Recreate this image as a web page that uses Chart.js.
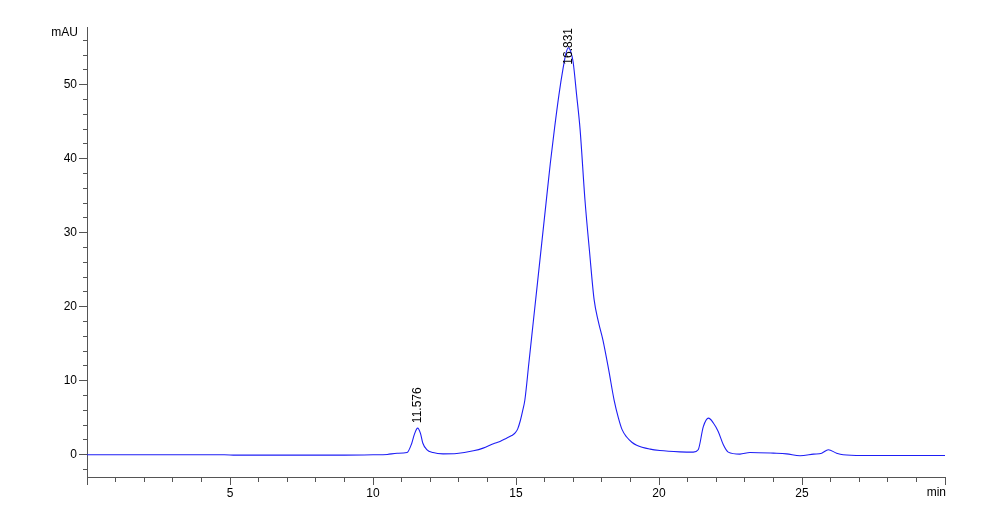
<!DOCTYPE html>
<html>
<head>
<meta charset="utf-8">
<script src="https://cdn.jsdelivr.net/npm/chart.js@4"></script>
<style>
	body { margin: 0; background: #fff; }
	#wrap { width: 1000px; height: 523px; }
</style>
</head>
<body>
<div id="wrap"><canvas id="chromatogram"></canvas></div>
<script>
// retention time (min) and signal (mAU)
var times = [0, 2, 4, 4.8, 5.2, 7, 9, 10.0, 10.5, 10.84, 11.19, 11.35, 11.45, 11.56, 11.66, 11.74, 11.88,
	12.1, 12.45, 12.93, 13.51, 13.85, 14.21, 14.44, 14.67, 14.85, 14.97, 15.06, 15.15, 15.23, 15.31, 15.45,
	15.6, 15.75, 15.9, 16.05, 16.2, 16.35, 16.5, 16.65, 16.75, 16.83, 16.92, 17.0, 17.12, 17.24, 17.41,
	17.57, 17.73, 17.88, 18.04, 18.24, 18.43, 18.58, 18.71, 18.87, 19.05, 19.22, 19.69, 20.03, 20.73, 21.2, 21.37,
	21.55, 21.73, 21.9, 22.07, 22.25, 22.42, 22.83, 23.18, 24.0, 24.46, 24.93, 25.4, 25.69, 25.92, 26.21,
	26.44, 27.1, 30]
var signal = [0, 0, 0, 0, -0.05, -0.05, -0.05, 0, 0.05, 0.2, 0.3, 1.5, 2.8, 3.6, 2.9, 1.6, 0.7,
	0.3, 0.13, 0.18, 0.54, 0.9, 1.5, 1.8, 2.25, 2.6, 2.95, 3.5, 4.6, 5.9, 7.4, 12.4,
	17.8, 23.2, 28.6, 34.0, 39.4, 44.2, 48.6, 52.3, 54.3, 55.0, 54.4, 53.0, 48.6, 44.0, 34.5,
	27.5, 21.0, 18.0, 15.5, 11.5, 7.4, 5.0, 3.4, 2.4, 1.7, 1.3, 0.77, 0.58, 0.4, 0.36, 0.68,
	3.8, 4.95, 4.3, 3.15, 1.35, 0.36, 0.09, 0.31, 0.22, 0.13, -0.13, 0.09, 0.22, 0.68, 0.22,
	0, -0.1, -0.1]

var peakTimes = [11.576, 16.831]
var peakHeights = [3.6, 55.0]
var peakLabels = ['11.576', '16.831']

var xTicks = [0, 1, 2, 3, 4, 5, 6, 7, 8, 9, 10, 11, 12, 13, 14, 15, 16, 17, 18, 19, 20, 21, 22, 23, 24, 25, 26, 27, 28, 29, 30]
var yTicks = [-2, 0, 2, 4, 6, 8, 10, 12, 14, 16, 18, 20, 22, 24, 26, 28, 30, 32, 34, 36, 38, 40, 42, 44, 46, 48, 50, 52, 54, 56]

var FONT = '"Liberation Sans", Arial, sans-serif'
var AXIS = '#555'

var annotate = {
	id: 'annotate',
	afterDatasetsDraw: function (chart) {
		var ctx = chart.ctx
		var x = chart.scales.x
		var y = chart.scales.y
		var area = chart.chartArea
		ctx.save()
		ctx.fillStyle = '#000'
		ctx.font = '12px ' + FONT
		peakTimes.forEach(function (t, i) {
			var px = x.getPixelForValue(t)
			var py = y.getPixelForValue(peakHeights[i])
			var w = ctx.measureText(peakLabels[i]).width
			var start = Math.max(py - 5, area.top + w + 1)
			ctx.save()
			ctx.translate(px, start)
			ctx.rotate(-Math.PI / 2)
			ctx.textAlign = 'left'
			ctx.textBaseline = 'middle'
			ctx.fillText(peakLabels[i], 0, 0)
			ctx.restore()
		})
		ctx.textAlign = 'right'
		ctx.textBaseline = 'middle'
		ctx.fillText('mAU', area.left - 9, area.top + 6)
		ctx.textBaseline = 'top'
		ctx.fillText('min', area.right + 1, area.bottom + 10)
		ctx.restore()
	}
}

function isMajor(v, step) {
	return Math.abs(v % step) < 1e-9
}

var points = times.map(function (t, i) { return { x: t, y: signal[i] } })

var chart = new Chart(document.getElementById('chromatogram'), {
	type: 'line',
	data: {
		datasets: [{
			data: points,
			borderColor: 'rgb(30, 30, 245)',
			borderWidth: 1.1,
			pointRadius: 0,
			fill: false,
			cubicInterpolationMode: 'monotone'
		}]
	},
	options: {
		responsive: true,
		maintainAspectRatio: false,
		animation: false,
		layout: { padding: { top: 27, right: 55, left: 0, bottom: 0 } },
		plugins: { legend: { display: false }, tooltip: { enabled: false } },
		scales: {
			x: {
				type: 'linear',
				min: 0,
				max: 30,
				afterBuildTicks: function (scale) {
					scale.ticks = xTicks.map(function (v) { return { value: v } })
				},
				afterFit: function (scale) { scale.height = 46 },
				border: { color: AXIS, width: 1 },
				grid: {
					drawOnChartArea: false,
					tickLength: 8,
					tickColor: AXIS,
					tickBorderDash: function (c) {
						return isMajor(c.tick.value, 5) ? [] : [4, 100]
					}
				},
				ticks: {
					autoSkip: false,
					maxRotation: 0,
					padding: 1,
					color: '#000',
					font: { family: FONT, size: 12 },
					callback: function (v) {
						return (isMajor(v, 5) && v > 0 && v < 30) ? String(v) : ''
					}
				}
			},
			y: {
				min: -3,
				max: 57.8,
				afterBuildTicks: function (scale) {
					scale.ticks = yTicks.map(function (v) { return { value: v } })
				},
				afterFit: function (scale) { scale.width = 87 },
				border: { color: AXIS, width: 1 },
				grid: {
					drawOnChartArea: false,
					tickLength: 8,
					tickColor: AXIS,
					tickBorderDash: function (c) {
						return isMajor(c.tick.value, 10) ? [] : [0, 4, 4, 100]
					}
				},
				ticks: {
					autoSkip: false,
					padding: 2,
					color: '#000',
					font: { family: FONT, size: 12 },
					callback: function (v) {
						return isMajor(v, 10) ? String(v) : ''
					}
				}
			}
		}
	},
	plugins: [annotate]
})
</script>
</body>
</html>
